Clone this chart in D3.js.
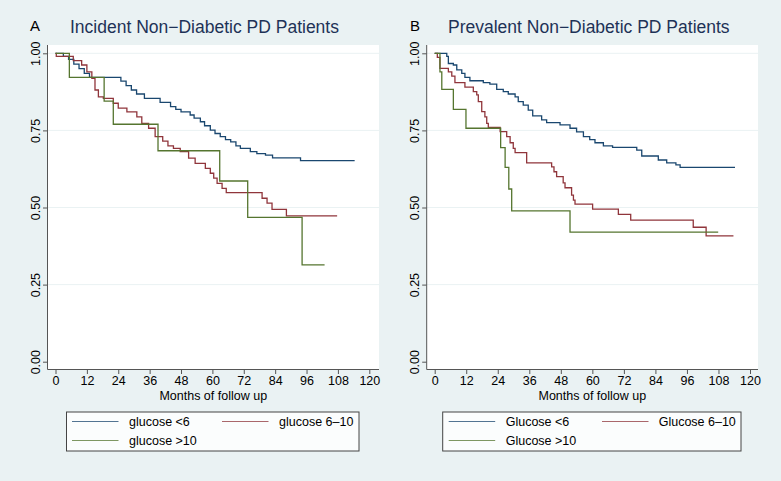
<!DOCTYPE html>
<html><head><meta charset="utf-8">
<script src="https://cdn.jsdelivr.net/npm/d3@7"></script>
<style>
html,body{margin:0;padding:0;background:#eaf2f3;}
svg{display:block;font-family:"Liberation Sans",Arial,Helvetica,sans-serif;}
svg text{font-family:"Liberation Sans",Arial,Helvetica,sans-serif;}
</style></head>
<body>
<svg id="chart" width="781" height="481"></svg>
<script>
// ---------- DATA ----------
const xTicks = [0,12,24,36,48,60,72,84,96,108,120];
const yTicks = [0,0.25,0.5,0.75,1];
const yTickLabels = ["0.00","0.25","0.50","0.75","1.00"];
const xLabel = "Months of follow up";
const panelLetters = ["A","B"];
const panelTitles = ["Incident Non\u2212Diabetic PD Patients","Prevalent Non\u2212Diabetic PD Patients"];
const legendLabelsA = ["glucose <6","glucose 6\u201310","glucose >10"];
const legendLabelsB = ["Glucose <6","Glucose 6\u201310","Glucose >10"];
const seriesColors = ["#1a476f","#90353b","#55752f"];

// Panel A (incident)
const aLt6Time = [0,3,5,7,9,11,13,25,27,29,31,34,40,44,46,48,51.5,53,55.4,57,59.2,61,63,65,67,69,70.7,74.5,77,80.3,83,93.7,114.4];
const aLt6Surv = [1,0.99,0.98,0.965,0.95,0.935,0.922,0.91,0.895,0.881,0.868,0.854,0.841,0.827,0.818,0.81,0.80,0.79,0.778,0.765,0.751,0.74,0.73,0.72,0.713,0.70,0.692,0.681,0.675,0.67,0.661,0.652,0.652];
const a6to10Time = [0,0.3,6.8,10,12,13.9,15.1,16.4,18.3,22.1,24,27.3,31.1,33,35.6,38.1,41,43,45.1,47.7,50.9,53.4,57.3,59.2,60.5,61.8,63.7,65.3,79,80.9,82.8,88.3,107.7];
const a6to10Surv = [1,0.99,0.976,0.962,0.94,0.919,0.881,0.859,0.854,0.838,0.822,0.81,0.794,0.773,0.757,0.73,0.715,0.70,0.692,0.681,0.66,0.643,0.627,0.611,0.595,0.578,0.562,0.548,0.53,0.514,0.494,0.473,0.473];
const aGt10Time = [0,5.3,18.6,22.1,39.2,62.8,73.5,94.3,102.9];
const aGt10Surv = [1,0.922,0.845,0.77,0.684,0.586,0.468,0.314,0.314];

// Panel B (prevalent)
const bLt6Time = [0,4.6,5.2,7.1,8.4,10.3,11.5,13.4,18.5,21,23.6,26.1,28,30.6,31.8,33.7,35.6,37.3,40.7,42.6,47.7,51.5,54,56.6,59,61,64.2,67.7,76.9,78.8,85.1,88.3,91.8,93.4,114.3];
const bLt6Surv = [1,0.99,0.967,0.962,0.946,0.935,0.922,0.911,0.905,0.9,0.883,0.876,0.868,0.859,0.843,0.832,0.816,0.797,0.784,0.775,0.768,0.757,0.745,0.73,0.72,0.71,0.70,0.695,0.686,0.667,0.654,0.645,0.638,0.63,0.63];
const b6to10Time = [0,1,2,5.2,6.5,7.7,11.5,14.7,16,16.6,17.9,19.1,19.8,20.4,24.9,27.4,28.7,29.9,30.6,35,44.5,45.4,46.4,48.9,49.6,52.1,52.8,53.4,60.1,69.9,74.6,98.4,103.3,113.7];
const b6to10Surv = [1,0.987,0.951,0.94,0.926,0.905,0.89,0.876,0.865,0.843,0.811,0.794,0.773,0.76,0.746,0.73,0.71,0.692,0.678,0.645,0.632,0.616,0.60,0.58,0.564,0.54,0.524,0.511,0.495,0.478,0.459,0.436,0.408,0.408];
const bGt10Time = [0,2,2.7,7.1,11.9,25.1,26.8,28.2,29.3,51.5,107.9];
const bGt10Surv = [1,0.94,0.883,0.818,0.757,0.694,0.63,0.56,0.489,0.42,0.42];

// ---------- BUILD ----------
const FONT = '"Liberation Sans",Arial,Helvetica,sans-serif';
const zip = (t,s) => t.map((v,i)=>({t:v,s:s[i]}));
const panels = [
  {letter:panelLetters[0], title:panelTitles[0], legend:legendLabelsA,
   series:[zip(aLt6Time,aLt6Surv),zip(a6to10Time,a6to10Surv),zip(aGt10Time,aGt10Surv)],
   box:{x0:47.5,x1:379,y0:45,y1:369.5}, xr:[55.5,369.3], letterX:30, titleX:70,
   leg:{x0:66.5,x1:359,l1:72,l2:222,t1:129,t2:279}},
  {letter:panelLetters[1], title:panelTitles[1], legend:legendLabelsB,
   series:[zip(bLt6Time,bLt6Surv),zip(b6to10Time,b6to10Surv),zip(bGt10Time,bGt10Surv)],
   box:{x0:426.7,x1:758,y0:45,y1:369.5}, xr:[434.7,750], letterX:410, titleX:448,
   leg:{x0:442.7,x1:741,l1:448.7,l2:602,t1:505.7,t2:658.7}}
];

const svg = d3.select("#chart");
svg.append("rect").attr("width",781).attr("height",481).attr("fill","#eaf2f3");

const yScale = d3.scaleLinear().domain([0,1]).range([361.7,53.3]);
const axisColor = "#555";

panels.forEach(p => {
  const g = svg.append("g");
  const b = p.box;
  const x = d3.scaleLinear().domain([0,120]).range(p.xr);

  g.append("rect").attr("x",b.x0).attr("y",b.y0).attr("width",b.x1-b.x0).attr("height",b.y1-b.y0).attr("fill","#ffffff");

  g.selectAll(".grid").data(yTicks.filter(v=>v>0)).join("line")
    .attr("x1",b.x0).attr("x2",b.x1)
    .attr("y1",d=>yScale(d)).attr("y2",d=>yScale(d))
    .attr("stroke","#eaf2f3").attr("stroke-width",1);

  const yAxis = d3.axisLeft(yScale).tickValues(yTicks).tickSize(4.5)
      .tickFormat((d,i)=>yTickLabels[i]);
  const ya = g.append("g").attr("transform",`translate(${b.x0},0)`).call(yAxis)
      .attr("font-family",FONT).attr("font-size",12.5);
  ya.select(".domain").remove();
  ya.selectAll(".tick line").attr("stroke",axisColor);
  ya.selectAll(".tick text").attr("fill","#000").attr("font-size",12.5).attr("font-family",FONT)
    .attr("x",0).attr("y",0).attr("dy",0)
    .attr("text-anchor","middle")
    .attr("transform","translate(-8,0) rotate(-90)");
  g.append("line").attr("x1",b.x0).attr("x2",b.x0).attr("y1",b.y0).attr("y2",b.y1)
    .attr("stroke",axisColor).attr("stroke-width",1);

  const xAxis = d3.axisBottom(x).tickValues(xTicks).tickSize(4.5);
  const xa = g.append("g").attr("transform",`translate(0,${b.y1})`).call(xAxis)
      .attr("font-family",FONT).attr("font-size",12.5);
  xa.select(".domain").remove();
  xa.selectAll(".tick line").attr("stroke",axisColor);
  xa.selectAll(".tick text").attr("fill","#000").attr("font-size",12.5).attr("font-family",FONT)
    .attr("y",7).attr("dy","0.71em");
  g.append("line").attr("x1",b.x0).attr("x2",b.x1).attr("y1",b.y1).attr("y2",b.y1)
    .attr("stroke",axisColor).attr("stroke-width",1);

  g.append("text").attr("x",(b.x0+b.x1)/2).attr("y",399.5).attr("text-anchor","middle")
    .attr("font-size",12.5).attr("fill","#000").text(xLabel);

  const line = d3.line().x(d=>x(d.t)).y(d=>yScale(d.s)).curve(d3.curveStepAfter);
  [0,1,2].forEach(i => {
    g.append("path").datum(p.series[i]).attr("d",line)
      .attr("fill","none").attr("stroke",seriesColors[i]).attr("stroke-width",1.3);
  });

  g.append("text").attr("x",p.letterX).attr("y",31).attr("font-size",15).attr("fill","#000").text(p.letter);
  g.append("text").attr("x",p.titleX).attr("y",33).attr("font-size",17.5).attr("fill","#1e3257").text(p.title);

  const L = p.leg;
  g.append("rect").attr("x",L.x0).attr("y",412).attr("width",L.x1-L.x0).attr("height",39)
    .attr("fill","#fbfdfd").attr("stroke","#444").attr("stroke-width",1);
  const items = [
    {lx:L.l1,tx:L.t1,y:421.5,i:0},
    {lx:L.l2,tx:L.t2,y:421.5,i:1},
    {lx:L.l1,tx:L.t1,y:440.5,i:2}
  ];
  items.forEach(it => {
    g.append("line").attr("x1",it.lx).attr("x2",it.lx+46.5).attr("y1",it.y).attr("y2",it.y)
      .attr("stroke",seriesColors[it.i]).attr("stroke-width",1).attr("opacity",0.75);
    g.append("text").attr("x",it.tx).attr("y",it.y+4.5).attr("font-size",12.5).attr("fill","#000").text(p.legend[it.i]);
  });
});
</script>
</body></html>
